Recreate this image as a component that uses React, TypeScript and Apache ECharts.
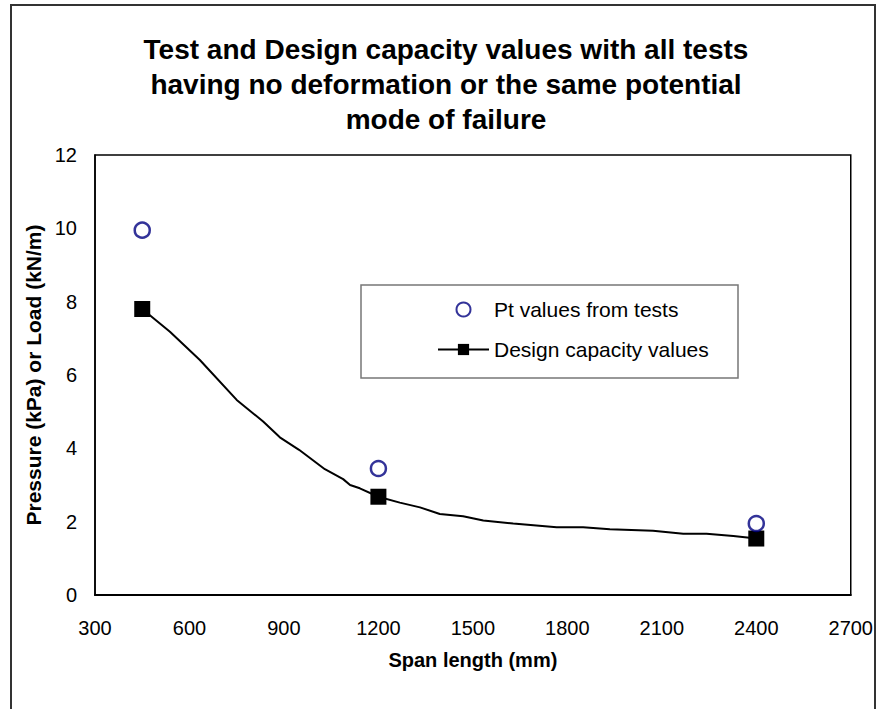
import React, { useEffect, useRef } from "react";
import * as echarts from "echarts";

const titleLines = [
  "Test and Design capacity values with all tests",
  "having no deformation or the same potential",
  "mode of failure",
];
const xAxisName = "Span length (mm)";
const yAxisName = "Pressure (kPa) or Load (kN/m)";
const seriesNames = ["Pt values from tests", "Design capacity values"];

// Test points
const testSpans = [450, 1200, 2400];
const testValues = [9.95, 3.45, 1.95];

// Design capacity curve
const designSpans = [450, 538, 633, 750, 834, 887, 948, 1030, 1088, 1110, 1141, 1200, 1268, 1332, 1395, 1469, 1533, 1628, 1766, 1850, 1935, 2072, 2168, 2242, 2327, 2400];
const designValues = [7.8, 7.18, 6.41, 5.32, 4.73, 4.3, 3.96, 3.43, 3.16, 3.0, 2.91, 2.68, 2.52, 2.39, 2.21, 2.15, 2.03, 1.95, 1.85, 1.85, 1.79, 1.75, 1.67, 1.67, 1.61, 1.54];
// spans where design markers are drawn
const designMarkerSpans = [450, 1200, 2400];

const FONT = "Arial, 'Liberation Sans', sans-serif";

export default function App() {
  const ref = useRef<HTMLDivElement>(null);

  useEffect(() => {
    if (!ref.current) return;
    const chart = echarts.init(ref.current, null, { renderer: "svg" });

    const designData = designSpans.map((x, i) =>
      designMarkerSpans.includes(x)
        ? { value: [x, designValues[i]] }
        : { value: [x, designValues[i]], symbol: "none" }
    );

    chart.setOption({
      animation: false,
      backgroundColor: "#fff",
      title: {
        text: titleLines.join("\n"),
        left: 441,
        top: 27,
        textAlign: "center",
        textStyle: {
          fontFamily: FONT,
          fontSize: 28,
          fontWeight: "bold",
          lineHeight: 35,
          color: "#000",
        },
      },
      graphic: [
        {
          type: "rect",
          shape: { x: 11, y: 5, width: 864, height: 720 },
          style: { fill: "none", stroke: "#333", lineWidth: 2 },
          silent: true,
          z: 0,
        },
        {
          type: "rect",
          shape: { x: 361, y: 285, width: 377, height: 93 },
          style: { fill: "#fff", stroke: "#777", lineWidth: 1.5 },
          silent: true,
          z: 5,
        },
      ],
      legend: {
        orient: "vertical",
        left: 437,
        top: 299,
        itemWidth: 51,
        itemHeight: 14,
        itemGap: 19,
        padding: 0,
        z: 10,
        textStyle: { fontFamily: FONT, fontSize: 21, color: "#000" },
        data: seriesNames,
      },
      grid: {
        left: 95,
        top: 155,
        right: 25,
        bottom: 114,
        show: true,
        borderColor: "#000",
        borderWidth: 1.5,
        backgroundColor: "#fff",
      },
      xAxis: {
        type: "value",
        min: 300,
        max: 2700,
        interval: 300,
        name: xAxisName,
        nameLocation: "middle",
        nameGap: 55,
        nameTextStyle: { fontFamily: FONT, fontSize: 20, fontWeight: "bold", color: "#000" },
        axisLine: { show: true, lineStyle: { color: "#000", width: 2 } },
        axisTick: { show: false },
        splitLine: { show: false },
        axisLabel: {
          fontFamily: FONT,
          fontSize: 20,
          color: "#000",
          margin: 23,
          formatter: (v: number) => String(v),
        },
      },
      yAxis: {
        type: "value",
        min: 0,
        max: 12,
        interval: 2,
        name: yAxisName,
        nameLocation: "middle",
        nameGap: 51,
        nameTextStyle: { fontFamily: FONT, fontSize: 21, fontWeight: "bold", color: "#000" },
        axisLine: { show: true, lineStyle: { color: "#000", width: 1.5 } },
        axisTick: { show: false },
        splitLine: { show: false },
        axisLabel: {
          fontFamily: FONT,
          fontSize: 20,
          color: "#000",
          margin: 18,
          formatter: (v: number) => String(v),
        },
      },
      series: [
        {
          name: seriesNames[0],
          type: "scatter",
          symbol: "circle",
          symbolSize: 15,
          itemStyle: { color: "#fff", borderColor: "#000080", borderWidth: 2.5 },
          data: testSpans.map((x, i) => [x, testValues[i]]),
          z: 3,
        },
        {
          name: seriesNames[1],
          type: "line",
          symbol: "rect",
          symbolSize: 16,
          showAllSymbol: true,
          lineStyle: { color: "#000", width: 2 },
          itemStyle: { color: "#000" },
          data: designData,
          z: 2,
        },
      ],
    });

    return () => chart.dispose();
  }, []);

  return (
    <div
      ref={ref}
      style={{ position: "fixed", left: 0, top: 0, width: 876, height: 709 }}
    />
  );
}
